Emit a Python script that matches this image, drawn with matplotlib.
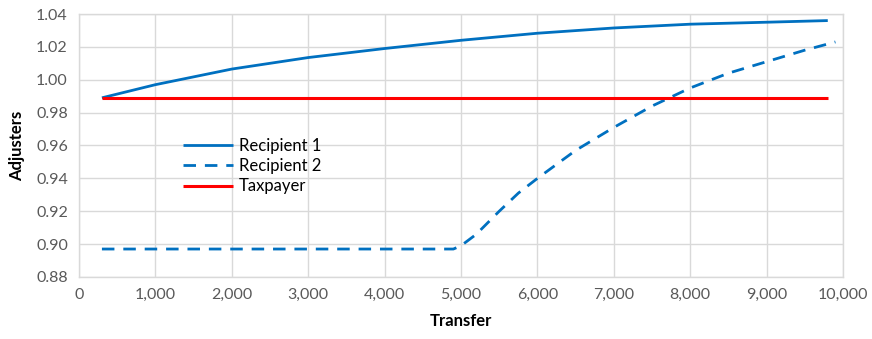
import matplotlib
matplotlib.use("Agg")
import matplotlib.pyplot as plt
from matplotlib.ticker import FuncFormatter

# data
x1 = [300, 1000, 2000, 3000, 4000, 5000, 6000, 7000, 8000, 9000, 9800]
recipient1 = [0.989, 0.997, 1.0065, 1.0135, 1.019, 1.024, 1.0283, 1.0315, 1.0338, 1.035, 1.036]

x2 = [300, 1000, 2000, 3000, 4000, 4900, 5000, 5200, 5500, 5750, 6000, 6500, 7000, 7500, 8000, 8500, 9000, 9500, 9900]
recipient2 = [0.897, 0.897, 0.897, 0.897, 0.897, 0.897, 0.899, 0.906, 0.920, 0.931, 0.940, 0.957, 0.971, 0.984, 0.995, 1.004, 1.011, 1.018, 1.023]

xt = [300, 2000, 4000, 6000, 8000, 9800]
taxpayer = [0.989, 0.989, 0.989, 0.989, 0.989, 0.989]

BLUE, RED, GRID, TICK = "#0070c0", "#ff0000", "#d9d9d9", "#595959"

plt.rcParams["font.family"] = ["Lato", "DejaVu Sans"]

fig = plt.figure(figsize=(8.72, 3.39), dpi=100, facecolor="white")
ax = fig.add_axes([0.0906, 0.183, 0.8762, 0.7757])

ax.plot(x1, recipient1, color=BLUE, lw=2.0, label="Recipient 1", solid_capstyle="butt")
ax.plot(x2, recipient2, color=BLUE, lw=2.0, ls=(0, (4.5, 3.2)), label="Recipient 2")
ax.plot(xt, taxpayer, color=RED, lw=2.2, label="Taxpayer", solid_capstyle="butt")

ax.set_xlim(0, 10000)
ax.set_ylim(0.88, 1.04)
ax.set_xticks(range(0, 10001, 1000))
ax.set_yticks([0.88 + 0.02 * i for i in range(9)])
ax.xaxis.set_major_formatter(FuncFormatter(lambda v, p: f"{int(v):,}"))
ax.yaxis.set_major_formatter(FuncFormatter(lambda v, p: f"{v:.2f}"))
ax.grid(True, color=GRID, lw=1.0)
ax.set_axisbelow(True)
for s in ax.spines.values():
    s.set_color(GRID)
    s.set_linewidth(1.0)
ax.tick_params(length=0, colors=TICK, labelsize=11.5, pad=8)

ax.set_xlabel("Transfer", fontsize=12, fontweight="bold", labelpad=8)
ax.set_ylabel("Adjusters", fontsize=12, fontweight="bold", labelpad=8)

leg = ax.legend(loc="upper left", bbox_to_anchor=(0.136, 0.528), frameon=False,
                fontsize=12, handlelength=3.0, handletextpad=0.36, labelspacing=0.25,
                borderpad=0, borderaxespad=0)

fig.savefig("out.png", dpi=100, facecolor="white")
